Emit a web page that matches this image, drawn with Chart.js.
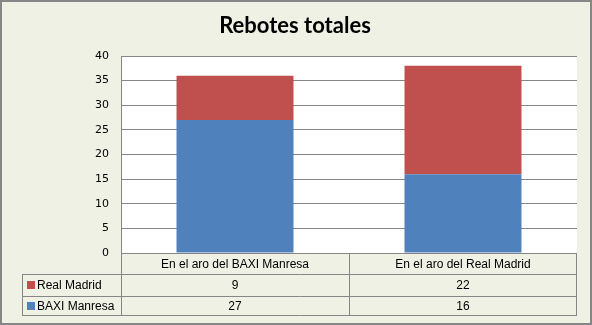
<!DOCTYPE html>
<html>
<head>
<meta charset="utf-8">
<script src="https://cdn.jsdelivr.net/npm/chart.js@4"></script>
<style>
  html, body { margin: 0; padding: 0; background: #eef1e3; }
  #wrap { width: 592px; height: 325px; }
</style>
</head>
<body>
<div id="wrap"><canvas id="rebotes" width="592" height="325"></canvas></div>
<script>
const chartTitle = 'Rebotes totales';
const categories = ['En el aro del BAXI Manresa', 'En el aro del Real Madrid'];
const baxiManresa = [27, 16];
const realMadrid = [9, 22];
const yTicks = { min: 0, max: 40, step: 5 };

const GRAY = '#868686';
const BLUE = '#4f81bd';
const RED = '#c0504d';

// background, white plot area, title and outer border
const frame = {
  id: 'frame',
  beforeDraw(chart) {
    const { ctx, chartArea: a } = chart;
    ctx.save();
    ctx.fillStyle = '#eef1e3';
    ctx.fillRect(0, 0, chart.width, chart.height);
    ctx.fillStyle = '#ffffff';
    ctx.fillRect(a.left, a.top, a.right - a.left, a.bottom - a.top);
    ctx.restore();
  },
  afterDraw(chart) {
    const { ctx } = chart;
    ctx.save();
    ctx.fillStyle = '#000000';
    ctx.font = 'bold 22px Lato, "Open Sans", sans-serif';
    ctx.textAlign = 'center';
    ctx.textBaseline = 'alphabetic';
    ctx.fillText(chartTitle, 295, 33);
    ctx.strokeStyle = GRAY;
    ctx.lineWidth = 2;
    ctx.strokeRect(1, 1, chart.width - 2, chart.height - 2);
    ctx.restore();
  }
};

// data table under the plot, like the Excel one
const dataTable = {
  id: 'dataTable',
  afterDraw(chart) {
    const { ctx, chartArea: a } = chart;
    const x = chart.scales.x;
    const half = (a.right - a.left) / categories.length / 2;
    const rows = [
      { label: 'Real Madrid', color: RED, values: realMadrid },
      { label: 'BAXI Manresa', color: BLUE, values: baxiManresa }
    ];
    const top = Math.round(a.bottom);
    const rowY = [top, top + 21, top + 43, top + 62];
    const tableLeft = 22;

    ctx.save();
    ctx.strokeStyle = GRAY;
    ctx.lineWidth = 1;
    ctx.beginPath();
    // horizontal lines
    ctx.moveTo(a.left, rowY[0] + 0.5); ctx.lineTo(a.right, rowY[0] + 0.5);
    for (let r = 1; r < rowY.length; r++) {
      ctx.moveTo(tableLeft, rowY[r] + 0.5); ctx.lineTo(a.right, rowY[r] + 0.5);
    }
    // vertical lines
    ctx.moveTo(tableLeft + 0.5, rowY[1]); ctx.lineTo(tableLeft + 0.5, rowY[3]);
    categories.forEach((c, i) => {
      const px = Math.round(x.getPixelForValue(i) - half) + 0.5;
      ctx.moveTo(px, rowY[0]); ctx.lineTo(px, rowY[3]);
    });
    ctx.moveTo(Math.round(a.right) - 0.5, rowY[0]); ctx.lineTo(Math.round(a.right) - 0.5, rowY[3]);
    ctx.stroke();

    ctx.fillStyle = '#000000';
    ctx.font = '12px "Liberation Sans", Arial, sans-serif';
    ctx.textBaseline = 'middle';
    ctx.textAlign = 'center';
    categories.forEach((c, i) => {
      const cx = x.getPixelForValue(i);
      ctx.fillText(c, cx, (rowY[0] + rowY[1]) / 2 + 1);
      rows.forEach((row, r) => {
        ctx.fillText(String(row.values[i]), cx, (rowY[r + 1] + rowY[r + 2]) / 2 + 1);
      });
    });
    rows.forEach((row, r) => {
      const cy = (rowY[r + 1] + rowY[r + 2]) / 2;
      ctx.fillStyle = row.color;
      ctx.fillRect(tableLeft + 5, Math.round(cy) - 4, 8, 8);
      ctx.fillStyle = '#000000';
      ctx.textAlign = 'left';
      ctx.fillText(row.label, tableLeft + 15, cy + 1);
    });
    ctx.restore();
  }
};

new Chart(document.getElementById('rebotes'), {
  type: 'bar',
  data: {
    labels: categories,
    datasets: [
      { label: 'BAXI Manresa', data: baxiManresa, backgroundColor: BLUE },
      { label: 'Real Madrid', data: realMadrid, backgroundColor: RED }
    ]
  },
  options: {
    responsive: false,
    animation: false,
    events: [],
    layout: { padding: { left: 0, right: 15, top: 56, bottom: 72 } },
    datasets: { bar: { categoryPercentage: 1, barPercentage: 0.513 } },
    plugins: {
      legend: { display: false },
      tooltip: { enabled: false },
      title: { display: false }
    },
    scales: {
      x: {
        stacked: true,
        display: false
      },
      y: {
        stacked: true,
        min: yTicks.min,
        max: yTicks.max,
        afterFit(scale) { scale.width = 121; },
        ticks: {
          stepSize: yTicks.step,
          padding: 12,
          color: '#000000',
          font: { family: '"DejaVu Sans", Verdana, sans-serif', size: 11 }
        },
        grid: { color: GRAY, drawTicks: false },
        border: { color: GRAY }
      }
    }
  },
  plugins: [frame, dataTable]
});
</script>
</body>
</html>
